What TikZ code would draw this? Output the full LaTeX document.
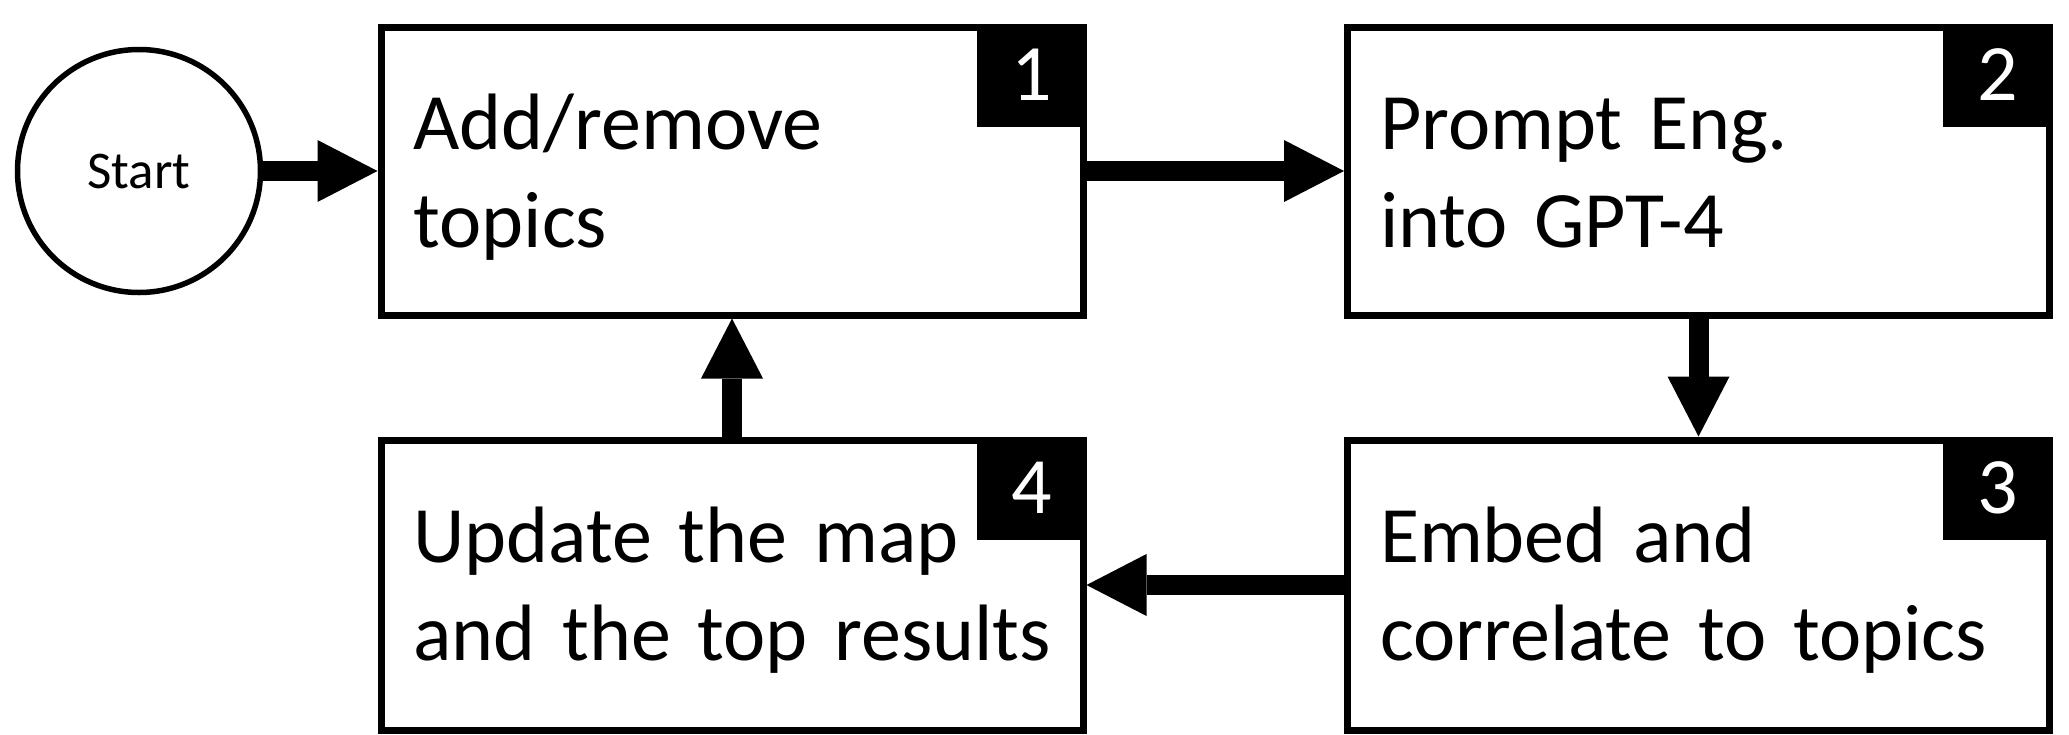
\documentclass[tikz,border=0pt]{standalone}
\usepackage{fontspec}
\setmainfont{Carlito}
\usetikzlibrary{arrows.meta,calc}
\begin{document}
\begin{tikzpicture}[x=1pt,y=-1pt,
  box/.style={draw, line width=7pt, minimum width=702pt, inner sep=0pt, rectangle},
  numsq/.style={fill=black, text=white, minimum width=110pt, minimum height=103pt, inner sep=0pt, outer sep=0pt, anchor=north east, font=\fontsize{80}{96}\selectfont},
  txt/.style={anchor=base west, inner sep=0pt, outer sep=0pt, text width=700pt, align=left, font=\fontsize{80}{98}\selectfont},
  flow/.style={line width=20pt, -{Triangle[length=60pt,width=62pt,line width=0pt]}}]
\fill[white] (0,0) rectangle (2069,734);
\useasboundingbox (0,0) rectangle (2069,734);
\node[circle, draw, line width=5.5pt, minimum size=243pt, inner sep=0pt, font=\fontsize{53}{64}\selectfont] (st) at (139,171) {Start};
\node[box, minimum height=288pt] (b1) at (732,171) {};
\node[box, minimum height=288pt] (b2) at (1698.5,171) {};
\node[box, minimum height=290pt] (b3) at (1698.5,585) {};
\node[box, minimum height=290pt] (b4) at (732,585) {};
\node[numsq] (s1) at (b1.north east) {1};
\node[numsq] (s2) at (b2.north east) {2};
\node[numsq] (s3) at (b3.north east) {3};
\node[numsq] (s4) at (b4.north east) {4};
\node[txt] (t1) at ($(b1.north west)+(36,126)$) {Add/remove\\topics};
\node[txt] (t2) at ($(b2.north west)+(36,126)$) {Prompt Eng.\\into GPT-4};
\node[txt] (t3) at ($(b3.north west)+(36,126)$) {Embed and\\correlate to topics};
\node[txt] (t4) at ($(b4.north west)+(36,126)$) {Update the map\\and the top results};
\draw[flow] (st.east) -- (b1.west);
\draw[flow] (b1.east) -- (b2.west);
\draw[flow] (b2.south) -- (b3.north);
\draw[flow] (b3.west) -- (b4.east);
\draw[flow] (b4.north) -- (b1.south);
\end{tikzpicture}
\end{document}
